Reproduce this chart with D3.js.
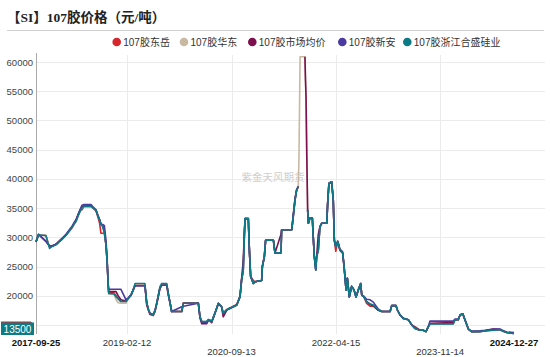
<!DOCTYPE html>
<html><head><meta charset="utf-8">
<script src="https://cdn.jsdelivr.net/npm/d3@7"></script>
<style>body{margin:0;background:#fff}svg{display:block}</style>
</head><body>
<script>
// ---------- DATA ----------
const seriesNames = ["107胶东岳","107胶华东","107胶市场均价","107胶新安","107胶浙江合盛硅业"];
const yTickValues = [15000,20000,25000,30000,35000,40000,45000,50000,55000,60000];
const xTickLabels = ["2017-09-25","2019-02-12","2020-09-13","2022-04-15","2023-11-14","2024-12-27"];
const lastValueLabel = "13500";
const watermark = "紫金天风期货";

const dates = [
"2017-09-25","2017-10-09","2017-11-19","2017-12-01","2017-12-09","2017-12-23","2018-01-14","2018-01-31","2018-02-19","2018-03-10",
"2018-03-27","2018-04-13","2018-04-24","2018-05-05","2018-05-16","2018-05-27","2018-06-07","2018-06-18","2018-07-27","2018-08-07",
"2018-08-24","2018-09-04","2018-09-12","2018-09-20","2018-09-30","2018-10-09","2018-10-18","2018-10-24","2018-10-27","2018-10-30",
"2018-11-02","2018-12-01","2018-12-13","2018-12-24","2019-01-09","2019-02-06","2019-02-20","2019-03-06","2019-03-18","2019-03-28",
"2019-05-22","2019-06-01","2019-06-11","2019-06-19","2019-07-07","2019-07-17","2019-07-26","2019-08-05","2019-08-13","2019-08-23",
"2019-09-20","2019-09-28","2019-10-08","2019-10-17","2019-12-12","2019-12-21","2020-03-13","2020-03-22","2020-04-01","2020-04-28",
"2020-05-08","2020-05-17","2020-05-26","2020-06-04","2020-06-13","2020-07-02","2020-07-20","2020-07-29","2020-08-17","2020-09-05",
"2020-09-23","2020-10-12","2020-10-30","2020-11-08","2020-11-17","2020-11-23","2020-11-27","2020-12-15","2020-12-21","2020-12-28",
"2021-01-12","2021-01-21","2021-02-27","2021-03-03","2021-03-14","2021-03-21","2021-05-03","2021-05-12","2021-06-14","2021-06-18",
"2021-08-13","2021-08-21","2021-08-31","2021-09-09","2021-09-18","2021-09-22","2021-09-28","2021-10-25","2021-10-28","2021-10-31",
"2021-11-04","2021-11-09","2021-11-13","2021-11-22","2021-12-05","2021-12-10","2021-12-16","2021-12-24","2021-12-29","2022-01-07",
"2022-01-16","2022-01-26","2022-02-23","2022-02-28","2022-03-07","2022-03-22","2022-03-31","2022-04-06","2022-04-14","2022-04-25",
"2022-05-07","2022-05-22","2022-05-30","2022-06-10","2022-06-17","2022-06-28","2022-07-11","2022-07-24","2022-08-04","2022-08-17",
"2022-08-30","2022-09-05","2022-09-17","2022-10-02","2022-10-21","2022-11-08","2022-12-06","2022-12-25","2023-02-09","2023-02-18",
"2023-03-14","2023-03-21","2023-04-05","2023-04-23","2023-05-21","2023-06-09","2023-06-27","2023-07-25","2023-08-12","2023-08-27",
"2023-09-09","2023-09-18","2024-01-25","2024-02-04","2024-02-22","2024-03-03","2024-03-18","2024-03-30","2024-04-18","2024-05-06",
"2024-06-21","2024-07-19","2024-09-03","2024-10-10","2024-10-29","2024-11-16","2024-12-27"];

const dongyue = [
29200,30400,30300,29000,28400,28500,28800,29300,29800,30400,
31000,31600,32200,32800,33800,34600,34700,35300,35300,35000,
34500,33400,32500,30700,30700,30700,28700,26000,24100,22000,
20500,20500,20000,19500,19000,19000,19600,20100,21000,21800,
21800,18300,17500,16800,16600,17400,18700,20200,21300,21800,
21800,20100,18800,17300,17300,18800,18800,16400,15500,15500,
15900,15800,15600,16300,17000,18700,18100,17000,17600,17900,
18200,18500,19900,22700,24400,30100,33200,33200,27800,23300,
22600,22400,22600,25000,26700,29500,29500,27300,27300,31300,
31300,33500,36400,38100,38700,null,null,null,null,null,
null,34700,32400,33300,33300,30100,26700,26000,26700,27800,
31800,32400,32400,35800,39200,39500,36400,29500,27600,29300,
27800,27300,25000,21000,23000,19800,21600,21000,19800,21000,
22100,20100,19800,18700,18200,18200,17500,17300,17300,18300,
18300,17600,16700,16100,15900,15000,14700,14100,14100,13850,
14700,15150,15150,15900,15900,16700,16900,15900,14300,13850,
13850,14000,14300,14200,13900,13700,13600];

const huadong = [
29200,30400,30300,29000,28400,28500,28800,29300,29800,30400,
31000,31700,32300,32700,33600,34400,35000,35300,35300,35000,
34600,33600,33000,32300,31800,30700,28700,26000,24100,22000,
20300,20300,19300,18800,18700,18700,19500,20100,21000,21800,
21800,18700,17600,17000,16700,17400,18700,20200,21400,21800,
21800,20400,18800,17300,17300,18700,18700,16400,15600,15600,
15900,15800,15600,16300,17000,18700,18100,17000,17600,17900,
18100,18400,19800,22700,24400,30100,33200,33200,27800,23300,
22100,22400,22600,25000,26700,29500,29500,27300,27300,31300,
31300,33500,36400,38100,38700,43800,60900,60900,57000,54000,
44400,34700,32400,33300,33300,30100,26700,24400,26700,27800,
31800,32400,32400,35800,39200,39500,36400,29500,28400,29300,
27800,27300,25000,21000,23000,19800,21600,21000,19800,21000,
22100,20100,19800,19000,18600,18400,17600,17300,17300,18300,
18300,17600,16700,16100,15900,15000,14400,14100,14100,13850,
14700,15150,15150,15900,15900,16700,16900,15900,14300,13850,
13850,13950,14100,14200,13900,13700,13600];

const avgPrice = [
29200,30500,29300,28800,28500,28500,28800,29300,29800,30400,
31100,31800,32400,33000,33800,34600,35200,35400,35400,35100,
34600,33600,33000,32300,32000,31000,28800,26000,24100,22000,
20700,20700,20700,20000,19300,19100,19600,20100,21000,21700,
21700,18700,17500,16900,16700,17400,18500,20000,21300,21800,
21800,20400,18800,17300,17300,18700,18700,16200,15200,15200,
15800,15700,15400,16200,17000,18600,18100,16400,17500,17900,
18100,18400,19900,23000,26000,31000,33200,33200,27800,23300,
22100,22400,22600,25000,26700,29500,29500,27300,30500,31300,
31300,33800,36600,38100,38700,null,null,60900,57000,54000,
44400,34700,32400,33300,33300,30100,26700,24400,26700,30500,
31800,32400,32400,36000,39200,39500,36400,29500,28400,29300,
27800,27300,25000,21000,23000,19800,21600,21000,19800,21000,
22100,20100,19800,19000,18500,18300,17500,17300,17300,18300,
18300,17600,16700,16100,15900,15000,14500,14100,14100,13850,
14700,15300,15400,15900,15900,16700,16900,15900,14300,13850,
13900,14000,14200,14200,13900,13700,13600];

const xinan = [
29200,30500,29300,28800,28500,28500,28800,29300,29900,30500,
31200,31900,32500,33000,33900,34700,35500,35600,35600,35200,
34700,33700,33100,32200,32200,32000,29500,26500,24300,22000,
21100,21100,21100,21100,21100,19300,19700,20200,21000,21700,
21700,18700,17600,17000,16800,17500,18700,20100,21300,21800,
21800,20400,18800,17300,18100,18200,18700,16400,15500,15400,
15900,15700,15500,16300,17000,18700,18100,17000,17600,17800,
18100,18400,19800,22700,24400,30100,33200,33200,27800,23300,
22100,22400,22600,25000,26700,29500,29500,27300,27300,31300,
31300,33500,36400,38100,38700,null,null,null,null,null,
null,34700,32400,33300,33300,30100,26700,24400,26700,27800,
31800,32400,32400,35800,39200,39500,36400,29500,28400,29300,
28000,27500,25000,21000,23000,19800,21600,21000,19800,21000,
22100,20100,19900,19400,19300,18900,17700,17300,17300,18300,
18300,17600,16700,16200,15900,15000,14400,14100,14100,13850,
14700,15650,15650,16000,16000,16700,16900,15900,14300,13900,
14000,14100,14300,14300,14000,13800,13700];

const hoshine = [
29300,30400,30300,29000,28100,28400,28700,29200,29700,30300,
31000,31700,32300,32700,33600,34400,35000,35300,35300,35000,
34600,33600,33000,32300,31800,30700,28700,26000,24100,22000,
20400,20300,19800,19500,19000,19000,19600,20100,21000,22100,
22100,18700,17600,17000,16700,17400,18700,20200,21500,22100,
22100,20400,18800,17300,17300,18700,18700,16400,15600,15600,
15900,15800,15600,16300,17000,18700,18100,17000,17600,17900,
18100,18400,19800,22700,24400,30100,33200,33200,27800,23300,
22100,22400,22600,25000,26700,29500,29500,27300,27300,31300,
31300,33500,36400,38100,38700,null,null,null,null,null,
null,34700,32400,33300,33300,30100,26700,24400,26700,27800,
31800,32400,32400,35800,39200,39500,36400,29500,28400,29300,
27800,27300,25000,21000,23000,19800,21600,21000,19800,21000,
22100,20100,19800,19000,18600,18400,17600,17300,17300,18300,
18300,17600,16700,16100,15900,15000,14400,14100,14100,13850,
14700,15150,15150,15900,15900,16700,16900,15900,14300,13850,
13850,13950,14100,14200,13900,13700,13500];

const seriesValues = [dongyue, huadong, avgPrice, xinan, hoshine];
const colors = ["#d7262c","#c9b9a2","#7d0f4f","#4b3a9f","#0c7b85"];

// ---------- CHART ----------
const W = 550, H = 357;
const svg = d3.select("body").append("svg").attr("width", W).attr("height", H)
  .style("font-family", "'Liberation Sans','Noto Sans CJK SC',sans-serif");
const parse = d3.timeParse("%Y-%m-%d");
const parsedDates = dates.map(parse);

const x = d3.scaleTime()
  .domain([parse(xTickLabels[0]), parse(xTickLabels[xTickLabels.length - 1])])
  .range([36, 514]);
const y = d3.scaleLinear().domain([13500, 61200]).range([333.7, 55]);
const plotRight = 545;

// title
svg.append("text").attr("x", 7).attr("y", 22)
  .style("font-family", "'Liberation Serif','Noto Sans CJK SC',serif")
  .style("font-weight", "bold").style("font-size", "13.5px").attr("fill", "#222")
  .text("【SI】107胶价格（元/吨）");
svg.append("line").attr("x1", 7).attr("x2", 544).attr("y1", 30.5).attr("y2", 30.5)
  .attr("stroke", "#cfcfcf").attr("stroke-width", 1);

// legend
const legendX = [116.7, 184, 252.3, 342.3, 407.3];
const lg = svg.append("g").selectAll("g").data(seriesNames).join("g")
  .attr("transform", (d, i) => `translate(${legendX[i]},42)`);
lg.append("circle").attr("r", 4.3).attr("fill", (d, i) => colors[i]);
lg.append("text").attr("x", 6.5).attr("y", 3.6).style("font-size", "10px")
  .attr("fill", "#333").text(d => d);

// horizontal grid + y labels
const gy = svg.append("g");
gy.selectAll("line").data(yTickValues).join("line")
  .attr("x1", 36).attr("x2", plotRight)
  .attr("y1", d => Math.round(y(d)) + 0.5).attr("y2", d => Math.round(y(d)) + 0.5)
  .attr("stroke", "#ebebeb").attr("stroke-width", 1);
gy.selectAll("text").data(yTickValues).join("text")
  .attr("x", 33).attr("y", d => y(d) + 3.5).attr("text-anchor", "end")
  .style("font-size", "9.5px").attr("fill", "#444").text(d => d);

// vertical grid + x labels
const xt = xTickLabels.map(parse);
svg.append("g").selectAll("line").data(xt.slice(1, -1)).join("line")
  .attr("x1", d => Math.round(x(d)) + 0.5).attr("x2", d => Math.round(x(d)) + 0.5)
  .attr("y1", 55).attr("y2", 334).attr("stroke", "#ebebeb");
svg.append("g").selectAll("text").data(xTickLabels).join("text")
  .attr("x", d => x(parse(d))).attr("y", (d, i) => (i === 0 || i === xTickLabels.length - 1) ? 346 : (i % 2 === 1 ? 346 : 355))
  .attr("text-anchor", "middle")
  .style("font-size", "9.5px")
  .style("font-weight", (d, i) => (i === 0 || i === xTickLabels.length - 1) ? "bold" : "normal")
  .attr("fill", (d, i) => (i === 0 || i === xTickLabels.length - 1) ? "#111" : "#333")
  .text(d => d);

// y axis line
svg.append("line").attr("x1", 36.5).attr("x2", 36.5).attr("y1", 53).attr("y2", 334)
  .attr("stroke", "#aaa");

// watermark
svg.append("text").attr("x", 273).attr("y", 181).attr("text-anchor", "middle")
  .style("font-size", "10.5px").attr("fill", "#cfcfcf").text(watermark);

// lines
const line = d3.line()
  .defined(d => d[1] !== null)
  .x(d => x(d[0])).y(d => y(d[1]));
svg.append("g").selectAll("path").data(seriesValues).join("path")
  .attr("d", vals => line(parsedDates.map((dt, i) => [dt, vals[i]])))
  .attr("fill", "none").attr("stroke", (d, i) => colors[i])
  .attr("stroke-width", 1.6).attr("stroke-linejoin", "round");

// last value label
svg.append("rect").attr("x", 1).attr("y", 321.5).attr("width", 30).attr("height", 12)
  .attr("fill", colors[0]);
svg.append("rect").attr("x", 1).attr("y", 322.5).attr("width", 33).attr("height", 12.5)
  .attr("fill", colors[4]);
svg.append("text").attr("x", 17.5).attr("y", 332.5).attr("text-anchor", "middle")
  .style("font-size", "10px").attr("fill", "#fff").text(lastValueLabel);
</script>
</body></html>
